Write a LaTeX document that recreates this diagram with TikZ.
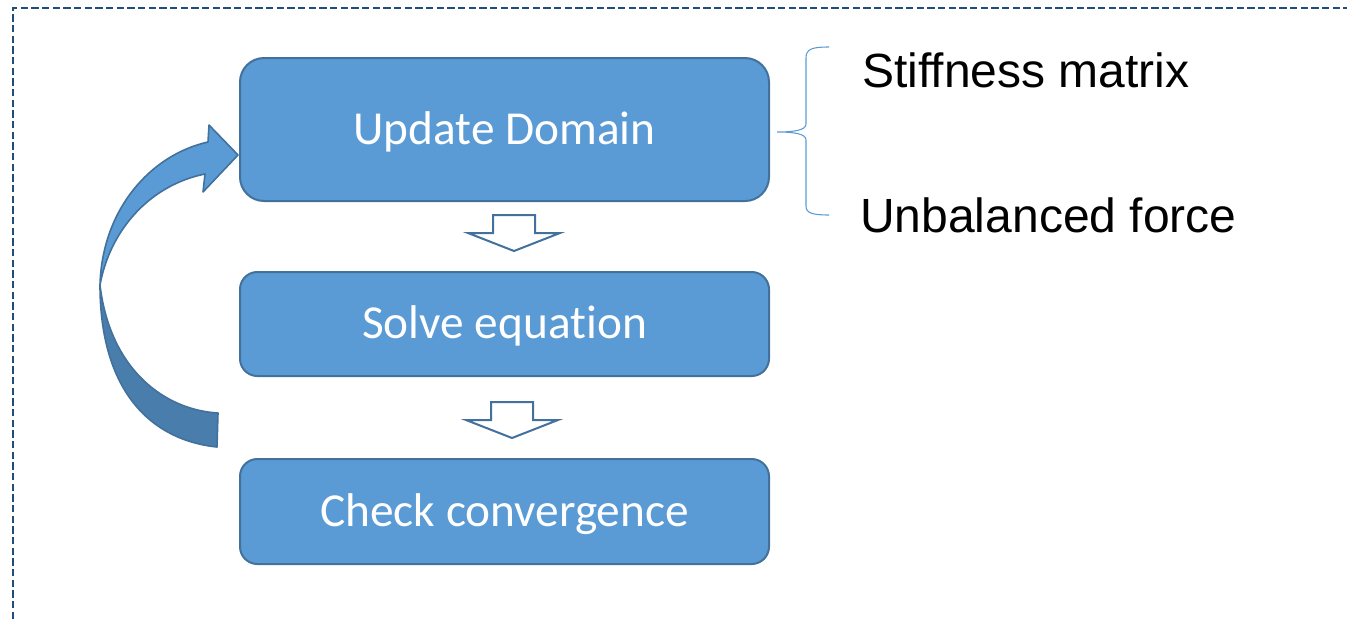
\documentclass[tikz,border=0pt]{standalone}
\usepackage{fontspec}
\newfontfamily\boxfont[Ligatures=NoCommon]{Carlito}
\newfontfamily\notefont{Liberation Sans}
\definecolor{boxfill}{RGB}{91,155,213}
\definecolor{boxline}{RGB}{65,113,156}
\definecolor{backfill}{RGB}{73,125,172}
\definecolor{framecol}{RGB}{31,78,121}
\begin{document}
\begin{tikzpicture}[x=0.75pt,y=-0.75pt,
  stage/.style={draw=boxline,line width=1.5pt,fill=boxfill,text=white,
    font=\boxfont\fontsize{35.5}{40}\selectfont,
    text height=29pt,text depth=7pt,
    minimum width=396.75pt,inner sep=0pt},
  note/.style={anchor=base west,inner sep=0pt,
    font=\notefont\fontsize{36}{40}\selectfont},
  blockarrow/.style={draw=boxline,line width=1.5pt,fill=white,line join=miter},
  loopband/.style={draw=boxline,line width=1.2pt,line join=round},
  brace/.style={draw=boxfill,line width=0.8pt},
  blockdown/.pic={\draw[blockarrow] (-21,-18) -- (21,-18) -- (21,0) -- (46,0)
    -- (0,18) -- (-46,0) -- (-21,0) -- cycle;}]
\useasboundingbox (0,0) rectangle (1347,619);

% dashed frame, open to the right and bottom
\draw[framecol,line width=2pt,dash pattern=on 5.5pt off 2.5pt]
  (13,619) -- (13,8) -- (1347,8);

% process stages
\node[stage,minimum height=107.25pt,rounded corners=18pt] (ud) at (504.5,129.5) {Update Domain};
\node[stage,minimum height=78pt,rounded corners=13pt] (se) at (504.5,324) {Solve equation};
\node[stage,minimum height=78.75pt,rounded corners=13pt] (cc) at (504.5,511.5) {Check convergence};

% block arrows between stages
\pic at (514,233) {blockdown};
\pic at (512,420) {blockdown};

% curved feedback arrow: back (darker) band, then front band with head
\coordinate (tail) at (217,430);
\coordinate (head) at (238,155);
\fill[backfill] (100,285) .. controls (100,390) and (150,440) .. (217,447)
  -- (218,413) .. controls (165,410) and (110,370) .. (100,285) -- cycle;
\draw[loopband] (100,285) .. controls (100,390) and (150,440) .. (217,447)
  -- (218,413) .. controls (165,410) and (110,370) .. (100,285);
\filldraw[loopband,fill=boxfill] (100,285) .. controls (102,210) and (150,155) .. (208,142)
  -- (209,125) -- (head) -- (203,192) -- (205,174)
  .. controls (150,185) and (110,230) .. (100,285) -- cycle;

% brace and notes
\draw[brace] (829,47) .. controls (812,47) and (806,49) .. (806,58) -- (806,124)
  .. controls (806,130) and (795,132) .. (777,132)
  .. controls (795,132) and (806,134) .. (806,140) -- (806,206)
  .. controls (806,213) and (812,215) .. (829,215);
\node[note] (sm) at (862,87) {Stiffness matrix};
\node[note] (uf) at (860,232) {Unbalanced force};
\end{tikzpicture}
\end{document}
